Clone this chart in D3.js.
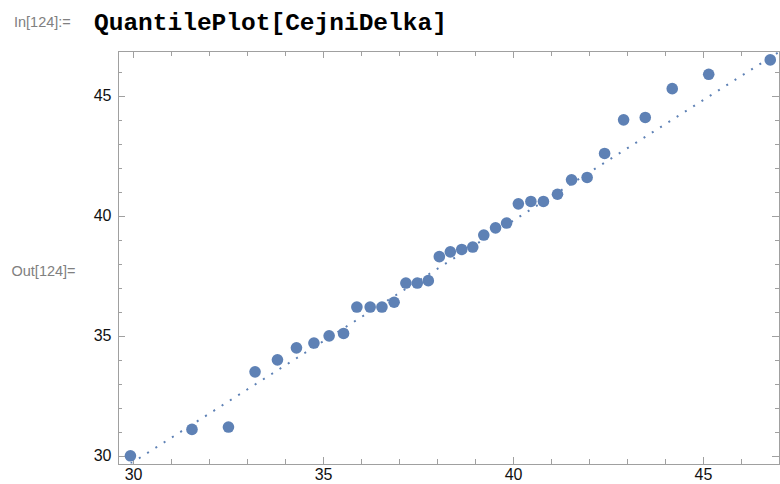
<!DOCTYPE html>
<html lang="cs">
<head>
    <meta charset="utf-8">
    <title>QuantilePlot[CejniDelka]</title>
    <script src="https://d3js.org/d3.v7.min.js"></script>
    <style type="text/css">
        body {
            margin: 0;
            padding: 0;
            background: #fff;
        }
        svg {
            display: block;
        }
        .label-io {
            font: 14.5px 'Liberation Sans', Arial, sans-serif;
            fill: #808080;
        }
        .cmd {
            font-family: 'Courier New', 'Liberation Mono', monospace;
            font-weight: bold;
            font-size: 24.5px;
            fill: #000;
        }
        .axis text {
            font: 16px 'Liberation Sans', Arial, sans-serif;
            fill: #111;
        }
        .axis path,
        .axis line {
            fill: none;
            stroke: #a0a0a0;
            shape-rendering: crispEdges;
        }
    </style>
</head>

<body>
    <svg></svg>

    <script>
        // Daten: theoretische Quantile (x) und gemessene Werte (y)
        var xQuantile = [29.93, 31.55, 32.51, 33.21, 33.80, 34.30, 34.76, 35.16, 35.54,
            35.89, 36.24, 36.55, 36.87, 37.18, 37.48, 37.77, 38.06, 38.35, 38.65,
            38.94, 39.23, 39.54, 39.83, 40.14, 40.47, 40.80, 41.17, 41.54, 41.95,
            42.41, 42.91, 43.48, 44.19, 45.15, 46.77];
        var cejniDelka = [30.0, 31.1, 31.2, 33.5, 34.0, 34.5, 34.7, 35.0, 35.1,
            36.2, 36.2, 36.2, 36.4, 37.2, 37.2, 37.3, 38.3, 38.5, 38.6,
            38.7, 39.2, 39.5, 39.7, 40.5, 40.6, 40.6, 40.9, 41.5, 41.6,
            42.6, 44.0, 44.1, 45.3, 45.9, 46.5];

        // Referenzlinie (zwei Endpunkte)
        var refLineX = [29.5, 47.0];
        var refLineY = [29.24, 46.83];

        // Achsenbeschriftungen
        var xTickLabels = [30, 35, 40, 45];
        var yTickLabels = [30, 35, 40, 45];
        var xMinorTicks = d3.range(30, 48, 1);
        var yMinorTicks = d3.range(30, 47, 1);

        var W = 780, H = 484;
        var plot = { left: 117.5, right: 779, top: 51, bottom: 463.5 };

        var svg = d3.select("svg")
            .attr("width", W)
            .attr("height", H);

        var x = d3.scaleLinear().domain([29.59, 47.0]).range([plot.left, plot.right]);
        var y = d3.scaleLinear().domain([29.68, 46.87]).range([plot.bottom, plot.top]);

        // Eingabe / Ausgabe Beschriftung
        svg.append("text").attr("class", "label-io")
            .attr("x", 14).attr("y", 27).text("In[124]:=");
        svg.append("text").attr("class", "cmd")
            .attr("x", 94).attr("y", 30).text("QuantilePlot[CejniDelka]");
        svg.append("text").attr("class", "label-io")
            .attr("x", 11.5).attr("y", 276).text("Out[124]=");

        svg.append("clipPath").attr("id", "plotclip")
            .append("rect")
            .attr("x", plot.left).attr("y", plot.top)
            .attr("width", plot.right - plot.left)
            .attr("height", plot.bottom - plot.top);

        // Nebenteilstriche (ohne Beschriftung)
        function minor(axis, ticks, transform) {
            svg.append("g")
                .attr("class", "axis minor")
                .attr("transform", transform)
                .call(axis.tickValues(ticks).tickSize(-4.5).tickSizeOuter(0).tickFormat(""))
                .select(".domain").remove();
        }
        minor(d3.axisBottom(x), xMinorTicks, "translate(0," + plot.bottom + ")");
        minor(d3.axisTop(x), xMinorTicks, "translate(0," + plot.top + ")");
        minor(d3.axisLeft(y), yMinorTicks, "translate(" + plot.left + ",0)");
        minor(d3.axisRight(y), yMinorTicks, "translate(" + plot.right + ",0)");

        // Hauptachsen (Rahmen)
        svg.append("g")
            .attr("class", "x axis")
            .attr("transform", "translate(0," + plot.bottom + ")")
            .call(d3.axisBottom(x).tickValues(xTickLabels).tickSize(-7).tickSizeOuter(0).tickPadding(5.4));

        svg.append("g")
            .attr("class", "x axis")
            .attr("transform", "translate(0," + plot.top + ")")
            .call(d3.axisTop(x).tickValues(xTickLabels).tickSize(-7).tickSizeOuter(0).tickFormat(""));

        svg.append("g")
            .attr("class", "y axis")
            .attr("transform", "translate(" + plot.left + ",0)")
            .call(d3.axisLeft(y).tickValues(yTickLabels).tickSize(-7).tickSizeOuter(0).tickPadding(6));

        svg.append("g")
            .attr("class", "y axis")
            .attr("transform", "translate(" + plot.right + ",0)")
            .call(d3.axisRight(y).tickValues(yTickLabels).tickSize(-7).tickSizeOuter(0).tickFormat(""));

        // gepunktete Referenzlinie
        var lineData = refLineX.map(function (d, i) { return [d, refLineY[i]]; });
        svg.append("path")
            .datum(lineData)
            .attr("clip-path", "url(#plotclip)")
            .attr("fill", "none")
            .attr("stroke", "#5e81b5")
            .attr("stroke-width", 2)
            .attr("stroke-dasharray", "2,7.8")
            .attr("d", d3.line()
                .x(function (d) { return x(d[0]); })
                .y(function (d) { return y(d[1]); }));

        // Punkte
        svg.selectAll(".dot")
            .data(cejniDelka)
            .enter().append("circle")
            .attr("class", "dot")
            .attr("cx", function (d, i) { return x(xQuantile[i]); })
            .attr("cy", function (d) { return y(d); })
            .attr("r", 5.8)
            .attr("fill", "#5e81b5");
    </script>
</body>
</html>
